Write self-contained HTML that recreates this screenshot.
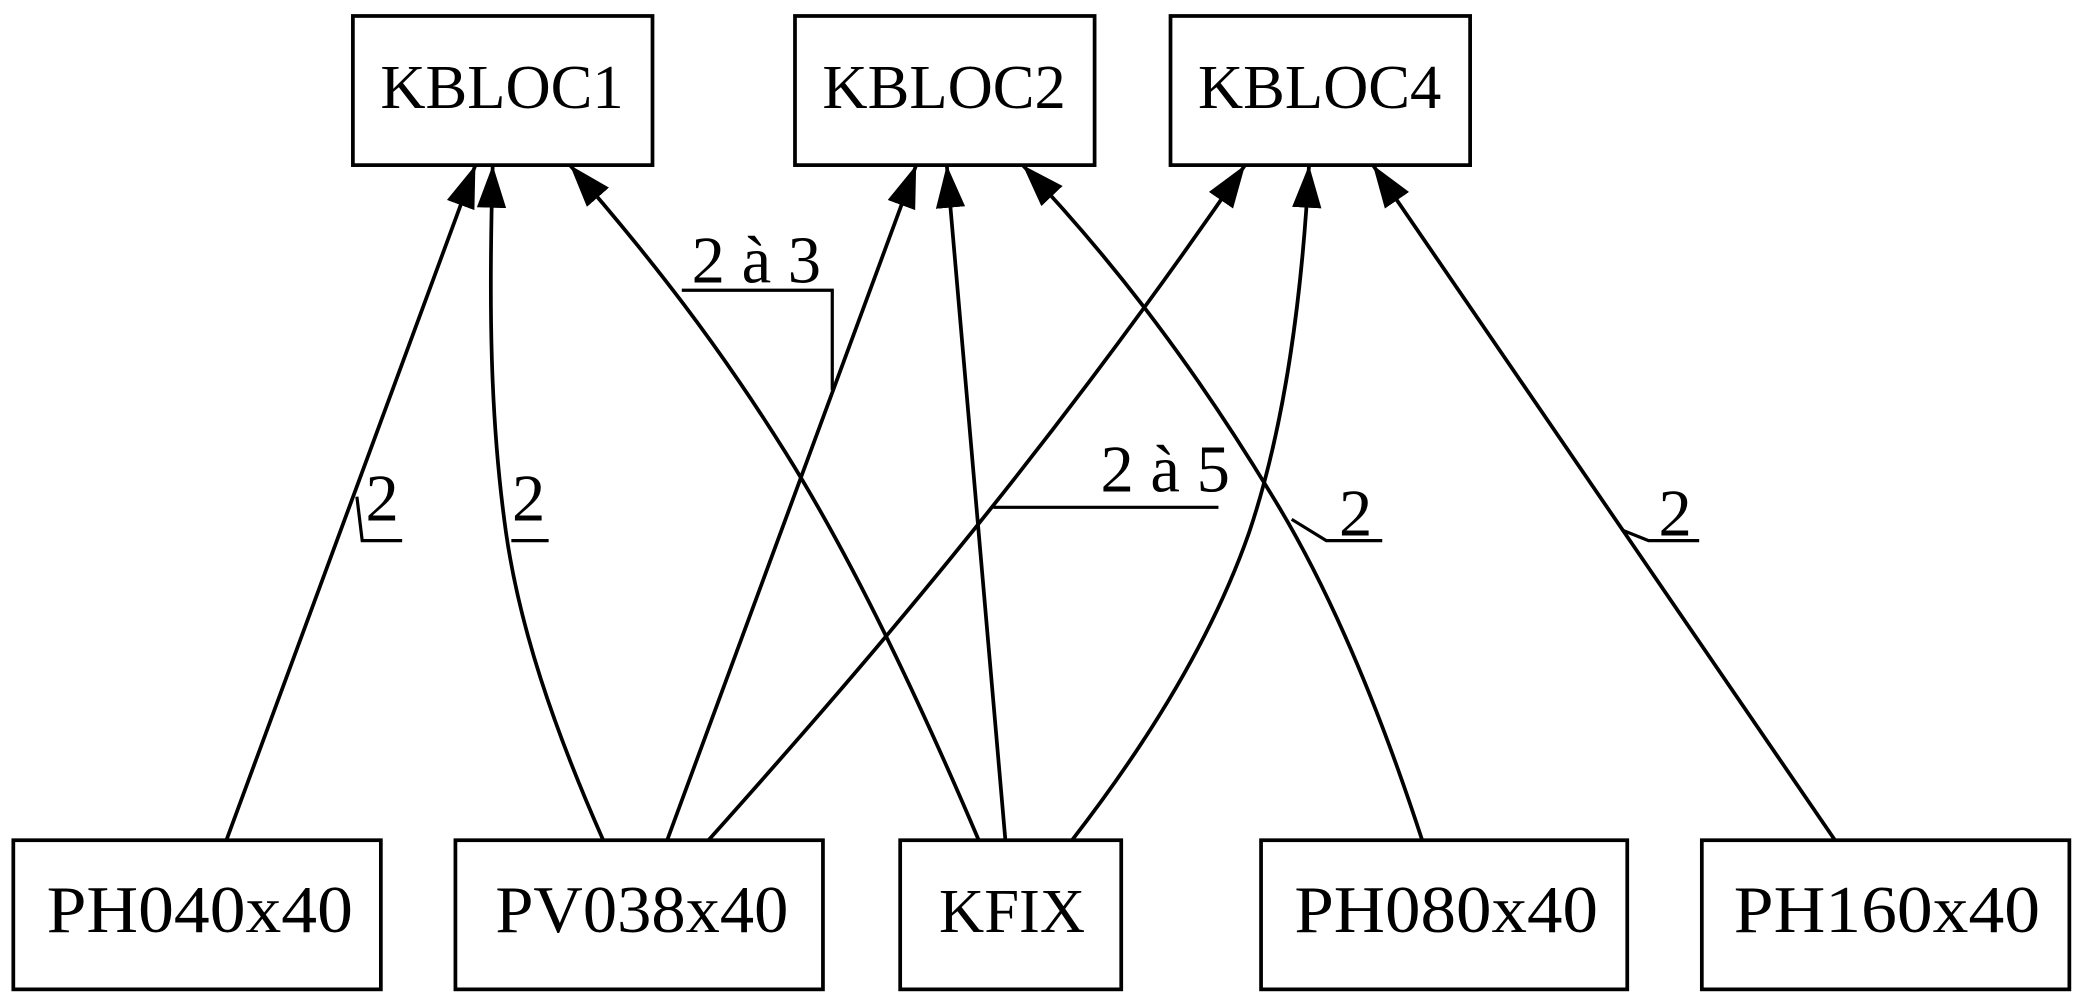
<!DOCTYPE html>
<html><head><meta charset="utf-8"><style>
html,body{margin:0;padding:0;background:#fff;}
svg{display:block;}
text{font-family:"Liberation Serif",serif;font-size:47px;fill:#000;}
text.b{font-size:50px;}
text.l{font-size:50px;}
</style></head><body>
<svg width="2088" height="1008" viewBox="0 0 1568 757" preserveAspectRatio="none" xmlns="http://www.w3.org/2000/svg">
<defs>
<marker id="a" markerUnits="userSpaceOnUse" markerWidth="34" markerHeight="24" refX="32" refY="11" orient="auto">
<path d="M0,0 L32,11 L0,22 Z" fill="#000"/>
</marker>
</defs>
<g fill="none" stroke="#000" stroke-width="2.8">
<rect x="265" y="12" width="225" height="112"/>
<rect x="597" y="12" width="225" height="112"/>
<rect x="879" y="12" width="225" height="112"/>
<rect x="10" y="631" width="276" height="112"/>
<rect x="342" y="631" width="276" height="112"/>
<rect x="676" y="631" width="166" height="112"/>
<rect x="947" y="631" width="275" height="112"/>
<rect x="1278" y="631" width="276" height="112"/>
</g>
<g fill="none" stroke="#000" stroke-width="2.8" marker-end="url(#a)">
<path d="M170,631 L357,124"/>
<path d="M453,631 C415,545 390,470 380,400 C368,315 367,230 370,124"/>
<path d="M735,631 C690,525 640,420 590,340 C540,260 490,195 428,124"/>
<path d="M501,631 L688,124"/>
<path d="M755,631 L711,124"/>
<path d="M1068,631 C1040,545 1005,455 960,380 C900,280 840,200 768,124"/>
<path d="M532,631 C640,510 780,350 935,124"/>
<path d="M805,631 C860,560 910,480 938,400 C965,320 978,220 983,124"/>
<path d="M1378,631 L1031,124"/>
</g>
<g fill="none" stroke="#000" stroke-width="2.4">
<polyline points="268,373 272,406 302,406"/>
<polyline points="384,406 412,406"/>
<polyline points="512,218 625,218 625,293"/>
<polyline points="746,381 915,381"/>
<polyline points="970,390 996,406 1038,406"/>
<polyline points="1218,398 1238,406 1276,406"/>
</g>
<g text-anchor="middle">
<text x="377" y="81">KBLOC1</text>
<text x="709" y="81">KBLOC2</text>
<text x="991" y="81">KBLOC4</text>
<text class="b" x="150" y="700" textLength="230" lengthAdjust="spacingAndGlyphs">PH040x40</text>
<text class="b" x="482" y="700" textLength="220" lengthAdjust="spacingAndGlyphs">PV038x40</text>
<text x="760" y="700">KFIX</text>
<text class="b" x="1086" y="700" textLength="228" lengthAdjust="spacingAndGlyphs">PH080x40</text>
<text class="b" x="1417" y="700" textLength="230" lengthAdjust="spacingAndGlyphs">PH160x40</text>
<text class="l" x="287" y="391">2</text>
<text class="l" x="397" y="391">2</text>
<text class="l" x="568" y="212">2 à 3</text>
<text class="l" x="875" y="369">2 à 5</text>
<text class="l" x="1018" y="402">2</text>
<text class="l" x="1258" y="402">2</text>
</g>
</svg>
</body></html>
